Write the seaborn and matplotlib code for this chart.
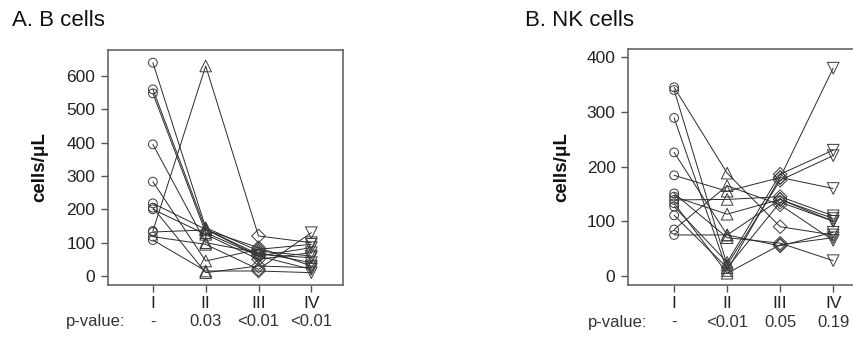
import numpy as np
import pandas as pd
import matplotlib
matplotlib.use('Agg')
import matplotlib.pyplot as plt
import seaborn as sns

# time points and labels
tiempos = [1, 2, 3, 4]
etiquetas = ['I', 'II', 'III', 'IV']
marcadores = ['o', '^', 'D', 'v']
tamanos = [40, 70, 48, 70]

# A. B cells (one value per subject and time point)
b_I = [640, 560, 548, 395, 283, 218, 205, 200, 135, 132, 118, 108]
b_II = [145, 140, 130, 100, 45, 140, 10, 125, 630, 138, 95, 15]
b_III = [75, 65, 60, 70, 80, 60, 30, 50, 120, 85, 20, 15]
b_IV = [60, 55, 85, 40, 95, 20, 25, 70, 100, 30, 130, 10]
b_pvalores = ['-', '0.03', '<0.01', '<0.01']

# B. NK cells
nk_I = [345, 340, 289, 226, 184, 151, 145, 139, 133, 127, 111, 85, 75]
nk_II = [188, 20, 10, 75, 155, 70, 113, 140, 5, 25, 15, 165, 75]
nk_III = [90, 175, 180, 140, 180, 60, 140, 145, 57, 186, 135, 130, 55]
nk_IV = [75, 220, 380, 100, 160, 28, 105, 110, 70, 230, 100, 65, 80]
nk_pvalores = ['-', '<0.01', '0.05', '0.19']


def armar_tabla(series):
    filas = []
    for t, valores in zip(tiempos, series):
        for sujeto, v in enumerate(valores):
            filas.append({'sujeto': sujeto, 'tiempo': t, 'valor': v})
    return pd.DataFrame(filas)


def dibujar_panel(ax, df, pvalores, ylim, yticks, xlim, pos_ylabel, x_pvalue):
    sns.lineplot(data=df, x='tiempo', y='valor', units='sujeto', estimator=None,
                 color='#2a2a2a', lw=0.7, sort=False, legend=False, ax=ax)
    for t, m, s in zip(tiempos, marcadores, tamanos):
        sub = df[df['tiempo'] == t]
        sns.scatterplot(x=sub['tiempo'], y=sub['valor'], marker=m, s=s,
                        color='white', edgecolor='#3a3a3a', linewidth=0.7,
                        legend=False, ax=ax, zorder=3)
    for coll in ax.collections:
        coll.set_facecolor('none')
        coll.set_edgecolor('#3a3a3a')
    ax.set_xlim(*xlim)
    ax.set_ylim(*ylim)
    ax.set_xticks(tiempos)
    ax.set_xticklabels(etiquetas)
    ax.set_yticks(yticks)
    ax.set_xlabel('')
    ax.set_ylabel('cells/\u03bcL', fontsize=13.5, fontweight='bold', color='#111111')
    ax.yaxis.set_label_coords(pos_ylabel, 0.5)
    ax.tick_params(axis='both', direction='out', length=5, width=1.0,
                   color='#555555', labelcolor='#222222', labelsize=12.5)
    ax.tick_params(axis='x', pad=3)
    ax.tick_params(axis='y', pad=4)
    ax.tick_params(bottom=True, left=True)
    for lado in ['left', 'right', 'top', 'bottom']:
        ax.spines[lado].set_visible(True)
        ax.spines[lado].set_color('#666666')
        ax.spines[lado].set_linewidth(1.2)
    trans = ax.get_xaxis_transform()
    ax.text(x_pvalue, -0.157, 'p-value:', transform=trans, ha='right', va='center',
            fontsize=12, color='#333333', clip_on=False)
    for t, p in zip(tiempos, pvalores):
        ax.text(t, -0.157, p, transform=trans, ha='center', va='center',
                fontsize=12, color='#333333', clip_on=False)


sns.set_style('white')
plt.rcParams['font.family'] = ['Liberation Sans', 'DejaVu Sans']

fig = plt.figure(figsize=(8.54, 3.37), dpi=100)
W, H = 854, 337
ax1 = fig.add_axes([108 / W, 1 - 285 / H, 235 / W, 235 / H])
ax2 = fig.add_axes([628 / W, 1 - 285 / H, 237 / W, 236 / H])

dibujar_panel(ax1, armar_tabla([b_I, b_II, b_III, b_IV]), b_pvalores,
              (-27, 678), [0, 100, 200, 300, 400, 500, 600], (0.15, 4.6), -0.255, 0.47)
dibujar_panel(ax2, armar_tabla([nk_I, nk_II, nk_III, nk_IV]), nk_pvalores,
              (-16.5, 415), [0, 100, 200, 300, 400], (0.13, 4.6), -0.245, 0.49)

fig.text(12 / W, 1 - 20 / H, 'A. B cells', fontsize=16, color='#111111', va='center', ha='left')
fig.text(525 / W, 1 - 20 / H, 'B. NK cells', fontsize=16, color='#111111', va='center', ha='left')

fig.savefig('out.png', dpi=100)
